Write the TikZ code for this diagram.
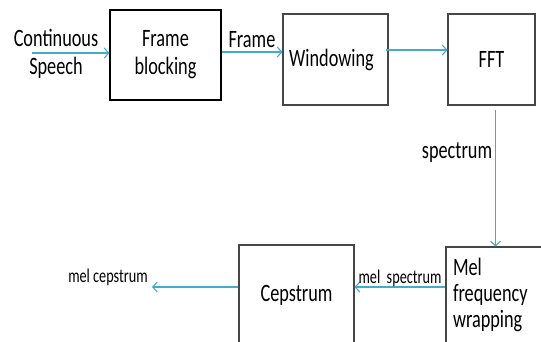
\documentclass[tikz,border=0pt]{standalone}
\usepackage{fontspec}
\setmainfont{Carlito}[FakeStretch=0.73]
\usetikzlibrary{arrows.meta,positioning}
\definecolor{FlowBlue}{RGB}{70,170,200}
\definecolor{BoxGray}{RGB}{70,70,70}

\begin{document}
\begin{tikzpicture}[x=1pt, y=-1pt,
    block/.style={draw=BoxGray, line width=1.1pt, inner sep=0pt, align=center,
        font=\fontsize{25}{28}\selectfont},
    flow/.style={FlowBlue, line width=1.1pt, -{Straight Barb[length=4.5pt,width=10pt]}},
    tag/.style={inner sep=0pt, align=center, font=\fontsize{25}{28}\selectfont},
    smalltag/.style={inner sep=0pt, font=\fontsize{19.5}{22}\selectfont}]
    \useasboundingbox (0,0) rectangle (541,341);

    % Top row of blocks
    \node[block, draw=black, minimum width=111pt, minimum height=90pt] (frameblk) at (165.5,55) {Frame\\blocking};
    \node[block, minimum width=105pt, minimum height=91pt] (window) at (335.5,59.5) {Windowing\hspace{8pt}};
    \node[block, minimum width=87pt, minimum height=91pt] (fft) at (491.5,59.5) {FFT};

    % Bottom row (boxes run off the page edge)
    \node[block, minimum width=99pt, minimum height=96pt, text width=85pt, align=left,
        font=\fontsize{25}{26}\selectfont] (melwrap) at (495.5,295) {Mel\\frequency\\wrapping};
    \node[block, minimum width=115pt, minimum height=100pt] (cepstrum) at (296.5,295) {Cepstrum};

    % Free ends of input and output
    \coordinate (speechin) at (32,53);
    \coordinate (melout) at (152,287);

    % Connectors
    \draw[flow] (speechin) -- (speechin -| frameblk.west);
    \draw[flow] ([yshift=3pt]frameblk.east) -- ([yshift=3pt]frameblk.east -| window.west);
    \draw[flow] ([xshift=-3pt,yshift=9.5pt]window.east) -- ([yshift=9.5pt]window.east -| fft.west);
    \draw[flow] ([yshift=-4pt]fft.south -| melwrap.north) -- (melwrap.north);
    \draw[flow] ([yshift=8pt]melwrap.west) -- ([yshift=8pt]melwrap.west -| cepstrum.east);
    \draw[flow] ([yshift=8pt]cepstrum.west) -- (melout);

    % Labels
    \node[tag] (speechlbl) at (56,54) {Continuous\\Speech};
    \node[tag] (framelbl) at (252,40) {Frame};
    \node[tag] (speclbl) at (457,153) {spectrum};
    \node[smalltag] (melspeclbl) at (400,278) {mel\ \ spectrum};
    \node[smalltag] (melceplbl) at (108,277) {mel cepstrum};
\end{tikzpicture}
\end{document}
